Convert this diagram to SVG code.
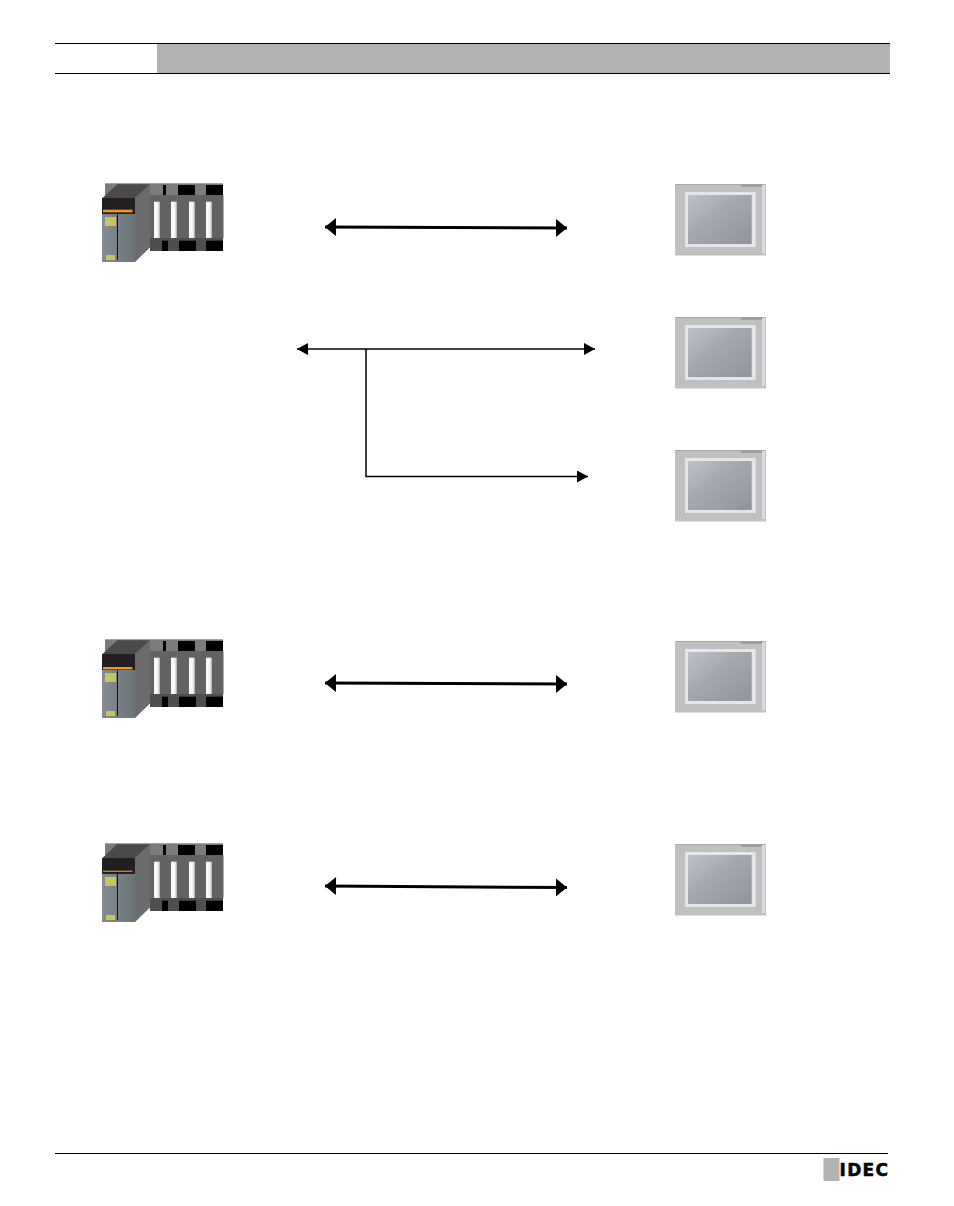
<svg xmlns="http://www.w3.org/2000/svg" width="954" height="1206" viewBox="0 0 954 1206">
<style>
.rule{stroke:#000;stroke-width:1;fill:none}
.thick{stroke:#000;stroke-width:3;fill:none;marker-start:url(#ts);marker-end:url(#te)}
.thin{stroke:#000;stroke-width:1.500;fill:none}
.blk{fill:#000}.slot{fill:url(#slot)}.org{fill:#f7941d}
</style>
<defs>
<marker id="ts" markerUnits="userSpaceOnUse" markerWidth="12" markerHeight="18" refX="0" refY="9" orient="auto"><path d="M0 9L11 0V18Z"/></marker>
<marker id="te" markerUnits="userSpaceOnUse" markerWidth="12" markerHeight="18" refX="11" refY="9" orient="auto"><path d="M11 9L0 0V18Z"/></marker>
<marker id="ns" markerUnits="userSpaceOnUse" markerWidth="12" markerHeight="12" refX="0" refY="6" orient="auto"><path d="M0 6L11 0V12Z"/></marker>
<marker id="ne" markerUnits="userSpaceOnUse" markerWidth="12" markerHeight="12" refX="11" refY="6" orient="auto"><path d="M11 6L0 0V12Z"/></marker>
<linearGradient id="slot"><stop offset="0" stop-color="#fff"/><stop offset=".65" stop-color="#f4f4f4"/><stop offset="1" stop-color="#a8a8a8"/></linearGradient>
<linearGradient id="front"><stop offset="0" stop-color="#838d92"/><stop offset="1" stop-color="#6a7477"/></linearGradient>
<linearGradient id="scr" x1="0" y1="0" x2="1" y2="1"><stop offset="0" stop-color="#bcc0c8"/><stop offset=".45" stop-color="#a3a8ae"/><stop offset="1" stop-color="#8e959a"/></linearGradient>
<g id="plc">
<rect x="105" y="183.300" width="118" height="12" fill="#7c7c7c"/>
<rect class="blk" x="163" y="185" width="3" height="10"/><rect class="blk" x="178" y="185" width="17" height="10"/><rect class="blk" x="206" y="185" width="17" height="10"/>
<rect x="150" y="195" width="73.500" height="43" fill="#636363"/>
<rect class="slot" x="154" y="201.700" width="6" height="36.300"/><rect class="slot" x="171" y="201.700" width="6" height="36.300"/><rect class="slot" x="189" y="201.700" width="6" height="36.300"/><rect class="slot" x="206" y="201.700" width="6" height="36.300"/>
<rect x="150" y="238" width="73" height="13" fill="#4f4f4f"/>
<rect class="blk" x="162" y="240.700" width="6" height="10.300"/><rect class="blk" x="179" y="240.700" width="17" height="10.300"/><rect class="blk" x="206" y="240.700" width="17" height="10.300"/>
<path d="M102 198.500L117 184.300H150L135 198.500Z" fill="#4a4a4a"/>
<path d="M135 198L150 184.300V247.500L135 262Z" fill="#6c6c6c"/>
<rect x="102" y="212" width="33" height="50" fill="url(#front)"/>
<rect x="102" y="198" width="33" height="16" fill="#231f20"/>
<rect x="117" y="214" width="1" height="46" fill="#111"/>
<rect x="105" y="217" width="11" height="9" fill="#c8c55c"/>
<rect x="106" y="255" width="9" height="5" fill="#c8c55c"/>
</g>
<g id="hmi">
<rect x="675" y="184" width="91" height="71.500" fill="#c0c0c0"/>
<rect x="741" y="184.300" width="23" height="2.400" fill="#999"/>
<rect x="675" y="184" width="66" height="1" fill="#a8a8a8"/>
<rect x="762" y="185" width="3" height="68" fill="#dcdcdc"/>
<rect x="685" y="192" width="70.700" height="55" fill="#e4e6ea"/>
<rect x="688" y="195" width="63.700" height="49" fill="url(#scr)"/>
</g>
</defs>
<g id="header">
<rect x="157" y="44" width="733" height="29" fill="#b2b2b2"/>
<path class="rule" d="M55 43.500H890M55 73.500H890"/>
</g>
<g id="footer">
<path class="rule" d="M55 1153.500H888"/>
<rect x="823.500" y="1158" width="16" height="23" fill="#b2b2b2"/>
<text x="839.500" y="1175.500" font-family="DejaVu Sans, sans-serif" font-weight="700" font-size="17" letter-spacing="1.300" stroke="#000" stroke-width=".5">IDEC</text>
</g>
<g id="plc-1"><use href="#plc"/><rect class="org" x="103" y="209.700" width="29.500" height="2.600"/></g>
<g id="plc-2"><use href="#plc" y="456"/><rect class="org" x="103" y="667" width="29.500" height="2.400"/></g>
<g id="plc-3"><use href="#plc" y="660"/><rect class="org" x="103" y="870.700" width="29.500" height="1.100"/></g>
<g id="hmi-1"><use href="#hmi"/></g>
<g id="hmi-2"><use href="#hmi" y="133"/></g>
<g id="hmi-3"><use href="#hmi" y="266"/></g>
<g id="hmi-4"><use href="#hmi" y="457"/></g>
<g id="hmi-5"><use href="#hmi" y="660"/></g>
<g id="connectors">
<path class="thick" d="M325 227L567 228"/>
<path class="thick" d="M325 683L567 684"/>
<path class="thick" d="M325 886L567 887.500"/>
<path class="thin" marker-start="url(#ns)" marker-end="url(#ne)" d="M297 349H595"/>
<path class="thin" marker-end="url(#ne)" d="M366 349V476.500H588"/>
</g>
</svg>
